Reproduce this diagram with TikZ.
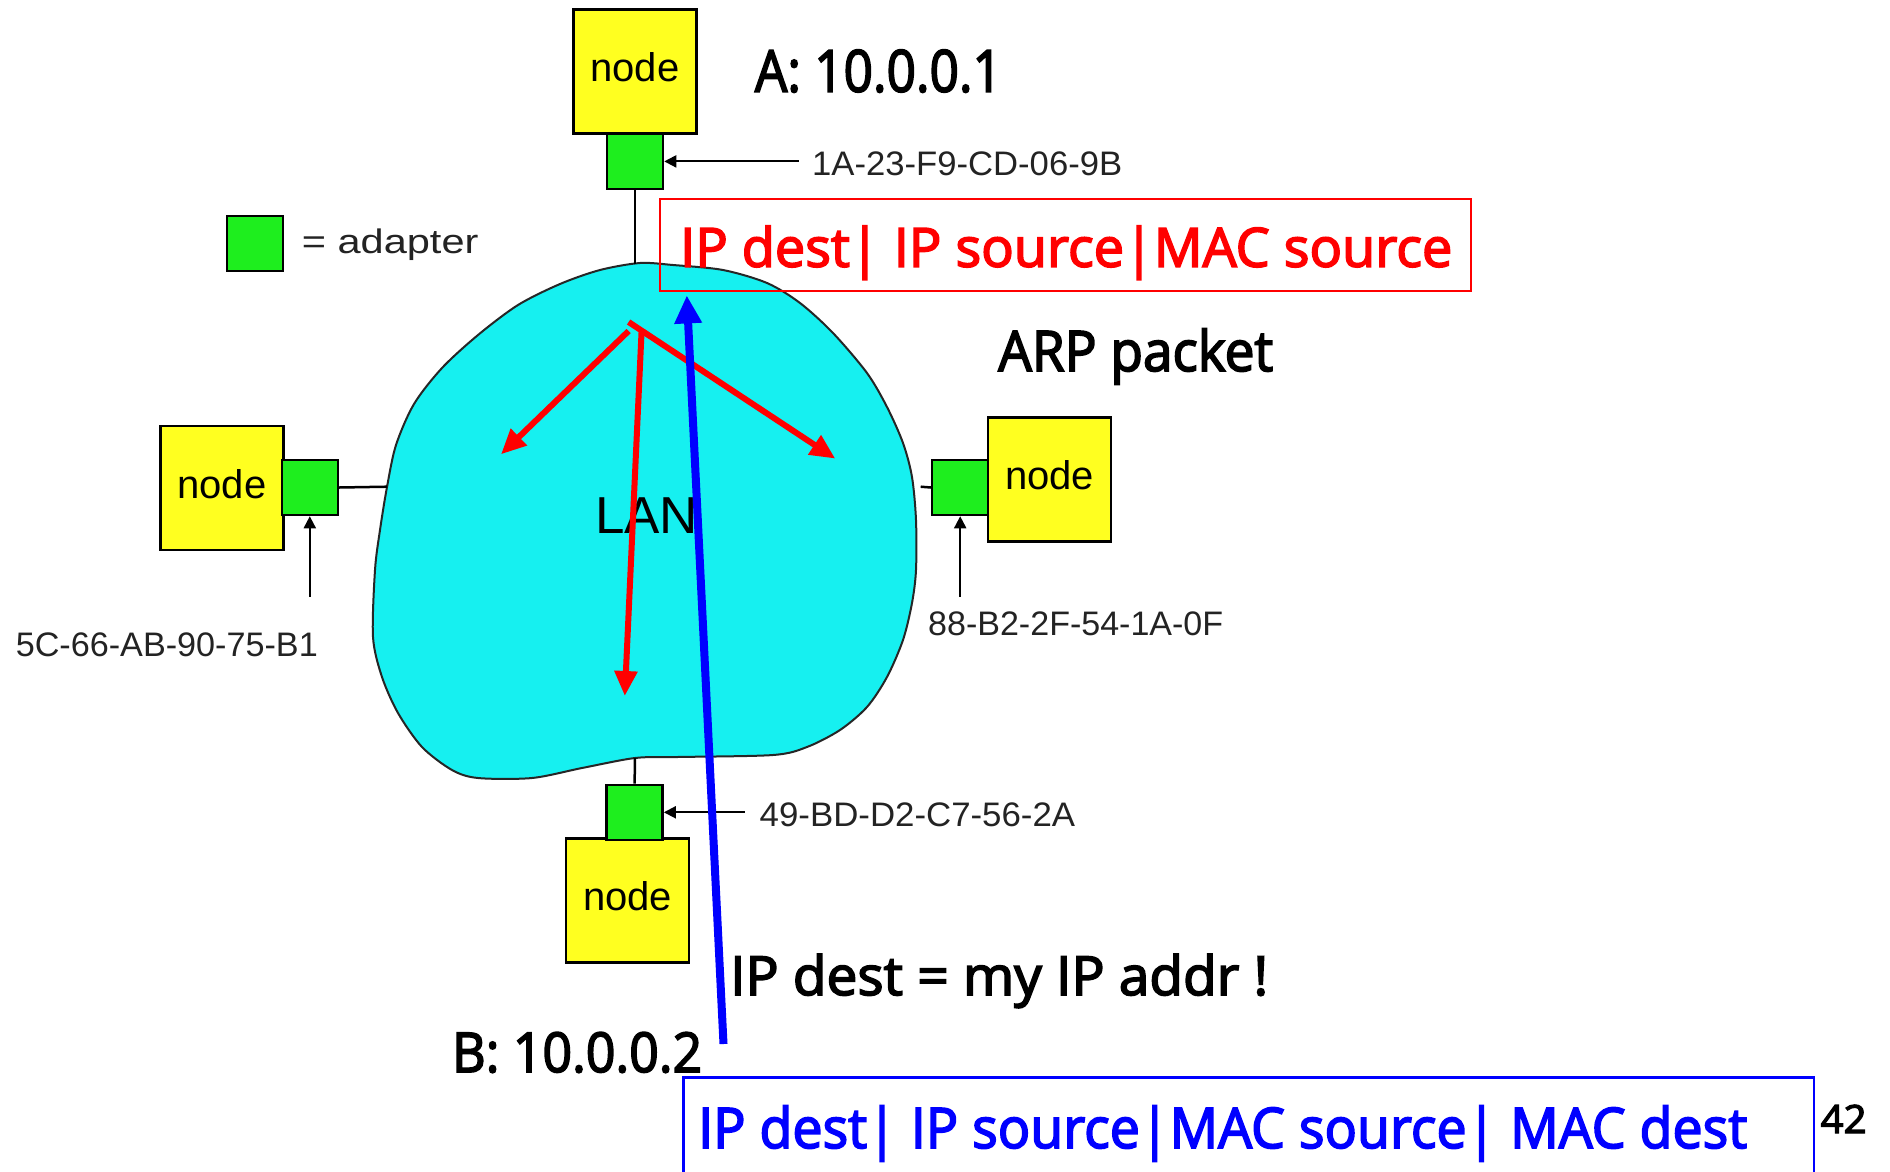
\documentclass[tikz,border=0pt]{standalone}
\usepackage{fontspec}
\usepackage{graphicx}
\setmainfont{Open Sans}[FakeBold=3]
\newfontfamily\pixfont{Liberation Sans}
\usetikzlibrary{arrows.meta}

\definecolor{hostyellow}{RGB}{255,255,32}
\definecolor{adaptergreen}{RGB}{30,238,30}
\definecolor{lancyan}{RGB}{22,240,240}
\definecolor{labelgray}{RGB}{35,35,35}

% stretch a text horizontally to a given width (in pt), keeping its height
\newcommand{\fitw}[2]{\resizebox{#1pt}{\height}{#2}}
\newcommand{\csize}[1]{\fontsize{#1}{#1}\selectfont}

\tikzset{
  host/.style={draw=black, line width=2.5pt, fill=hostyellow,
    minimum width=123pt, minimum height=124pt, inner sep=0pt,
    font=\pixfont\csize{40}, text height=20pt, text depth=0pt},
  adapterbox/.style={draw=black, line width=2.5pt, fill=adaptergreen,
    minimum width=56pt, minimum height=55pt, inner sep=0pt},
  wire/.style={draw=black, line width=2.5pt},
  macptr/.style={draw=black, line width=2pt, -{Triangle[length=12pt,width=12pt]}},
  maclabel/.style={font=\pixfont\csize{34}, text=labelgray, inner sep=0pt, anchor=base west},
  hand/.style={inner sep=0pt, anchor=base west},
  bcast/.style={draw=red, line width=6pt, -{Triangle[length=25pt,width=22pt]}},
  reply/.style={draw=blue, line width=8pt, -{Triangle[length=28pt,width=26pt]}},
}

\begin{document}
\begin{tikzpicture}[x=1pt,y=-1pt]
\useasboundingbox[fill=white] (0,0) rectangle (1890,1171);

% the LAN cloud
\draw[fill=lancyan, draw=black!85, line width=2pt]
  plot[smooth cycle, tension=0.5] coordinates {
    (640,263) (673,265) (723,270) (767,283) (800,303) (833,333) (867,373)
    (887,407) (903,443) (912,477) (916,520) (916,570) (912,603) (903,640)
    (887,677) (867,707) (840,730) (807,747) (773,755) (677,757) (635,758)
    (582,768) (532,778) (478,778) (452,770) (422,747) (398,713) (382,677)
    (373,637) (375,570) (380,530) (387,487) (396,445) (414,404) (442,368)
    (478,335) (518,305) (560,284) (600,270)};
\coordinate (lantop) at (635,264);
\coordinate (lanleft) at (387,486.7);
\coordinate (lanright) at (920.7,486.7);
\coordinate (lanbottom) at (635,758);

\node[hand, font=\pixfont\csize{52}] (lanname) at (595,533.6) {\fitw{103}{LAN}};

% hosts and their adapters
\node[host] (hosta) at (635,71.7) {node};
\node[adapterbox] (ada) at (635,161.4) {};
\node[host] (hostl) at (222,488) {node};
\node[adapterbox] (adl) at (309.8,487.5) {};
\node[host] (hostr) at (1049.7,479.5) {node};
\node[adapterbox] (adr) at (960.2,487.5) {};
\node[host] (hostb) at (627.5,900.3) {node};
\node[adapterbox] (adb) at (634.6,812.3) {};

% wires to the LAN
\draw[wire] (ada.south) -- (lantop);
\draw[wire] (adl.east) -- (lanleft);
\draw[wire] (lanright) -- (adr.west);
\draw[wire] (lanbottom) -- (adb.north);

% legend
\node[adapterbox] (legendbox) at (255,243.5) {};
\node[hand, font=\pixfont\csize{34}, text=labelgray] (legendtext) at (301.7,253) {\fitw{176.6}{= adapter}};

% MAC addresses
\node[maclabel] (maca) at (812,175) {\fitw{310}{1A-23-F9-CD-06-9B}};
\node[maclabel] (macl) at (15.6,656.7) {\fitw{302}{5C-66-AB-90-75-B1}};
\node[maclabel] (macr) at (928,635) {\fitw{295}{88-B2-2F-54-1A-0F}};
\node[maclabel] (macb) at (759.5,826) {\fitw{315.5}{49-BD-D2-C7-56-2A}};
\coordinate (pa) at (798.8,161.4);
\coordinate (pl) at (309.8,596.7);
\coordinate (pr) at (960.2,596.7);
\coordinate (pb) at (744.7,812.3);
\draw[macptr] (pa) -- (ada.east);
\draw[macptr] (pl) -- (adl.south);
\draw[macptr] (pr) -- (adr.south);
\draw[macptr] (pb) -- (adb.east);

% IP addresses and notes
\node[hand, font=\csize{58}] (ipa) at (754.7,91.7) {\fitw{247}{A: 10.0.0.1}};
\node[hand, font=\csize{55}] (ipb) at (452,1072) {\fitw{250}{B: 10.0.0.2}};
\node[hand, font=\csize{56}] (arplabel) at (998,371) {\fitw{275}{ARP packet}};
\node[hand, font=\csize{54}] (match) at (730,995) {\fitw{538}{IP dest = my IP addr !}};
\node[hand, font=\csize{39}] (pagenum) at (1820.4,1133) {\fitw{46}{42}};

% broadcast ARP query
\node[draw=red, line width=2pt, minimum width=810.8pt, minimum height=92pt, inner sep=0pt] (queryframe) at (1065.2,245) {};
\node[hand, font=\csize{54}, text=red] (query) at (680,266.7) {\fitw{772}{IP dest| IP source|MAC source}};

\coordinate (fanr) at (628.6,322);
\coordinate (fanl) at (628.6,331);
\coordinate (fand) at (641.6,330.7);
\coordinate (tipr) at (835.3,458.6);
\coordinate (tipl) at (501,454.3);
\coordinate (tipd) at (624.8,696);
\draw[bcast] (fanr) -- (tipr);
\draw[bcast] (fanl) -- (tipl);
\draw[bcast] (fand) -- (tipd);

% ARP reply
\draw[blue, line width=2.5pt] (683.5,1180) -- (683.5,1077.5) -- (1814,1077.5) -- (1814,1180);
\node[hand, font=\csize{56}, text=blue] (answer) at (698,1148) {\fitw{1049}{IP dest| IP source|MAC source| MAC dest}};

\coordinate (replystart) at (723.5,1044);
\coordinate (replytip) at (686.8,295.4);
\draw[reply] (replystart) -- (replytip);
\end{tikzpicture}
\end{document}
